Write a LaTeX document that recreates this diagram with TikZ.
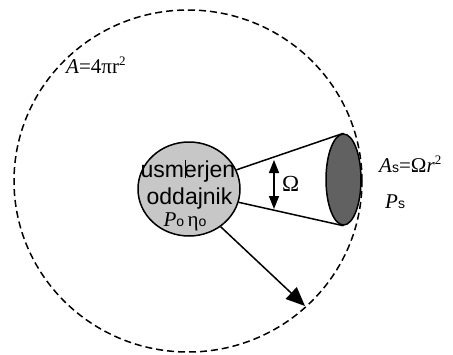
\documentclass[tikz,border=0pt]{standalone}
\usepackage{fontspec}
\setmainfont{Liberation Serif}
\newfontfamily\arialfont{Liberation Sans}
\usetikzlibrary{arrows.meta,shapes.geometric}
\newcommand\subsf[1]{{\arialfont\fontsize{14}{14}\selectfont #1}}
\newcommand\supsm[1]{\raisebox{8pt}{\fontsize{13}{13}\selectfont #1}}
\begin{document}
\begin{tikzpicture}[x=1pt,y=-1pt,
  line/.style={line width=1.5pt},
  lbl/.style={anchor=base west, inner sep=0pt, font=\fontsize{21}{21}\selectfont},
  sans/.style={anchor=base, inner sep=0pt, font=\arialfont\fontsize{23}{23}\selectfont}]
\useasboundingbox (0,0) rectangle (453,354);
% large sphere
\node[draw, line, dash pattern=on 7pt off 4pt, ellipse, minimum width=348pt, minimum height=342pt, inner sep=0pt] (sphere) at (188,181) {};
% source
\node[draw, line, ellipse, fill=black!22, minimum width=102pt, minimum height=94pt, inner sep=0pt] (src) at (189,189) {};
% receiving area
\node[draw, line, ellipse, fill=black!62, minimum width=35pt, minimum height=91pt, inner sep=0pt] (disk) at (343.5,179.5) {};
\draw[line] (src.22) -- (disk.north);
\draw[line] (src.-15) -- (disk.south);
% omega arrow
\coordinate (om1) at (274,160);
\coordinate (om2) at (274,209);
\draw[line, {Triangle[length=13pt,width=10pt]}-{Triangle[length=13pt,width=10pt]}] (om1) -- (om2);
\node[lbl, font=\fontsize{23}{23}\selectfont] (omega) at (282,191) {Ω};
% radial arrow
\coordinate (tip) at (305,306);
\draw[line, -{Triangle[length=19pt,width=16pt]}] (src.-50) -- (tip);
% texts in source
\node[sans, text depth=0pt] (t1) at (188,177) {usmerjen};
\node[sans, text depth=0pt] (t2) at (189.5,204) {oddajnik};
\draw[line width=0.6pt] (185,160) -- (185,178);
\node[lbl, anchor=base, text height=12pt, text depth=1pt] (t3) at (185,226) {\textit{P}\subsf{o}\,η\subsf{o}};
% labels
\node[lbl] (area) at (66,73) {\textit{A}=4πr\supsm{2}};
\node[lbl] (as) at (379,172) {\textit{A}\subsf{s}=Ω\textit{r}\supsm{2}};
\node[lbl] (ps) at (385,208) {\textit{P}\subsf{s}};
\end{tikzpicture}
\end{document}
